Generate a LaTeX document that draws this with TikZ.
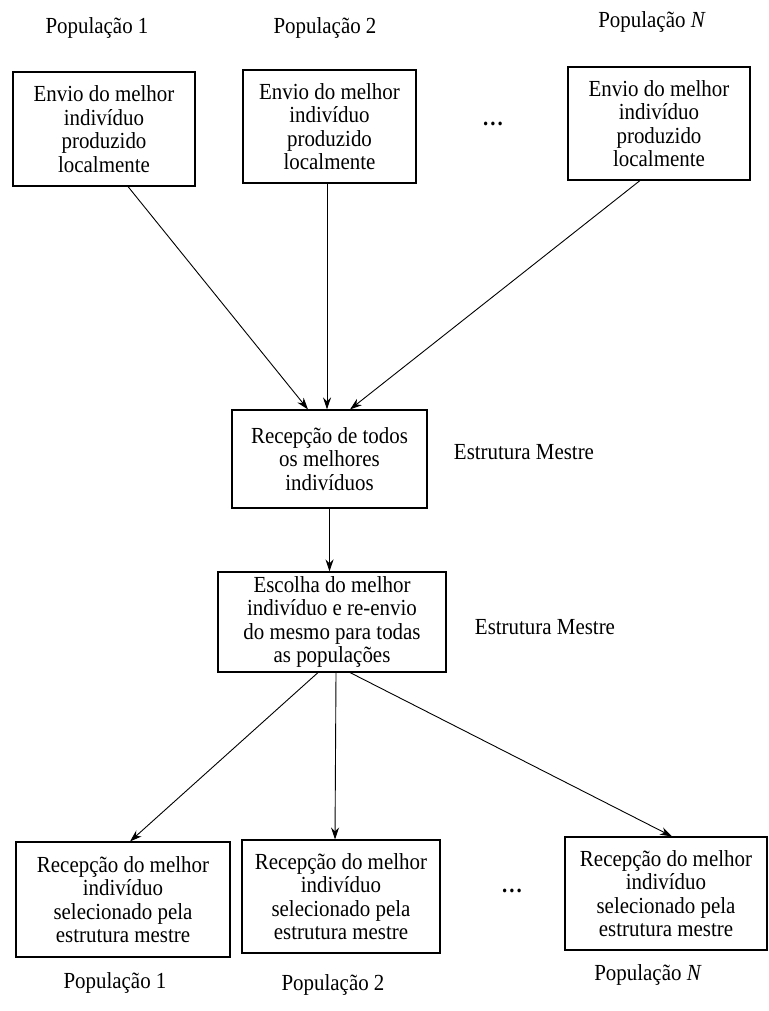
\documentclass[tikz,border=0pt]{standalone}
\usepackage{fontspec}
\setmainfont{Liberation Serif}[FakeStretch=0.91]
\usetikzlibrary{arrows.meta}
\begin{document}
\begin{tikzpicture}[x=1pt,y=-1pt,
  every node/.style={font=\fontsize{23}{23.5}\selectfont, inner sep=0pt},
  box/.style={draw, line width=1.1pt, align=center},
  lbl/.style={anchor=center},
  dots/.style={font=\fontsize{23}{23.5}\selectfont\bfseries},
  arr/.style={line width=0.9pt, -{Stealth[length=12pt,width=8pt]}}]
  \useasboundingbox (0,0) rectangle (768,1011);

  % population labels, top row
  \node[lbl] (p1t) at (97,28) {População 1};
  \node[lbl] (p2t) at (325,28) {População 2};
  \node[lbl] (pNt) at (652,22) {População \textit{N}};

  % local sending boxes
  \node[box, minimum width=182pt, minimum height=114pt] (t1) at (104,129)
    {Envio do melhor\\indivíduo\\produzido\\localmente};
  \node[box, minimum width=173pt, minimum height=113pt] (t2) at (329.5,126.5)
    {Envio do melhor\\indivíduo\\produzido\\localmente};
  \node[dots] (dt) at (493,124) {.\kern2pt.\kern2pt.};
  \node[box, minimum width=182pt, minimum height=113pt] (tN) at (659,123.5)
    {Envio do melhor\\indivíduo\\produzido\\localmente};

  % master structure
  \node[box, minimum width=195pt, minimum height=98pt] (m1) at (329.5,459)
    {Recepção de todos\\os melhores\\indivíduos};
  \node[lbl] (e1) at (524,452) {Estrutura Mestre};
  \node[box, minimum width=228pt, minimum height=100pt] (m2) at (332,622)
    {Escolha do melhor\\indivíduo e re-envio\\do mesmo para todas\\as populações};
  \node[lbl] (e2) at (545,627) {Estrutura Mestre};

  % receiving boxes
  \node[box, minimum width=214pt, minimum height=115pt] (b1) at (123,899.5)
    {Recepção do melhor\\indivíduo\\selecionado pela\\estrutura mestre};
  \node[box, minimum width=198pt, minimum height=113pt] (b2) at (341,896.5)
    {Recepção do melhor\\indivíduo\\selecionado pela\\estrutura mestre};
  \node[dots] (db) at (512,891) {.\kern2pt.\kern2pt.};
  \node[box, minimum width=202pt, minimum height=113pt] (bN) at (666,893.5)
    {Recepção do melhor\\indivíduo\\selecionado pela\\estrutura mestre};

  % population labels, bottom row
  \node[lbl] (p1b) at (115,983) {População 1};
  \node[lbl] (p2b) at (333,985) {População 2};
  \node[lbl] (pNb) at (648,975) {População \textit{N}};

  % connectors
  \draw[arr] ([xshift=24pt]t1.south) -- ([xshift=-21.5pt]m1.north);
  \draw[arr] ([xshift=-2.5pt]t2.south) -- ([xshift=-2.5pt]m1.north);
  \draw[arr] ([xshift=-19pt]tN.south) -- ([xshift=20.5pt]m1.north);
  \draw[arr] (m1.south) -- (m1.south |- m2.north);
  \draw[arr] ([xshift=-14pt]m2.south) -- ([xshift=7pt]b1.north);
  \draw[arr] ([xshift=4pt]m2.south) -- ([xshift=-6pt]b2.north);
  \draw[arr] ([xshift=18pt]m2.south) -- ([xshift=6pt]bN.north);
\end{tikzpicture}
\end{document}
